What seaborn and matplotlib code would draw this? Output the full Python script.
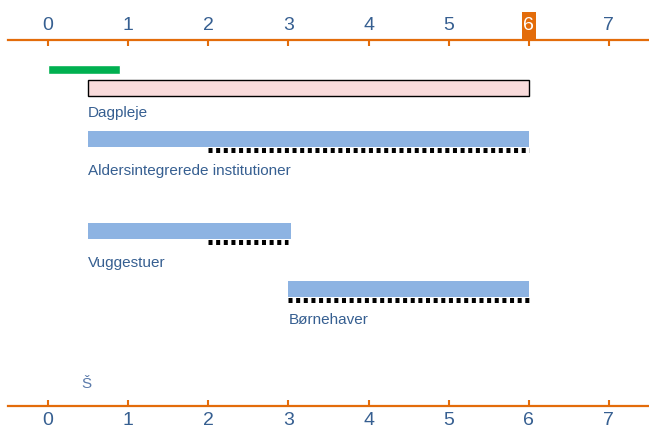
import matplotlib
matplotlib.use("Agg")
import matplotlib.pyplot as plt
import matplotlib.transforms as mtransforms
from matplotlib.patches import Rectangle
import seaborn as sns

# age ranges (years) per care type
care_types = ["Dagpleje", "Aldersintegrerede institutioner", "Vuggestuer", "Børnehaver"]
bar_start = [0.5, 0.5, 0.5, 3.0]
bar_end = [6.0, 6.0, 3.03, 6.0]
dash_start = [None, 2.0, 2.0, 3.0]
dash_end = [None, 6.0, 3.0, 6.0]
bar_colors = ["#F9DBDB", "#8DB3E2", "#8DB3E2", "#8DB3E2"]
label_x = [0.5, 0.5, 0.5, 3.0]
leave_start, leave_end = 0.0, 0.9
ticks = [0, 1, 2, 3, 4, 5, 6, 7]
highlight_tick = 6

# layout (pixel rows, axis runs top->bottom)
row_y = [88, 139, 231, 289]
label_y = [113, 171, 263, 320]

ORANGE = "#E36C0A"
TEXT = "#365F91"

sns.set_style("white")
plt.rcParams["font.family"] = ["Liberation Sans", "DejaVu Sans"]
plt.rcParams["lines.scale_dashes"] = False

fig = plt.figure(figsize=(6.49, 4.30), dpi=100)
ax = fig.add_axes([8 / 649, 24 / 430, 641 / 649, 366 / 430])
ax.set_xlim(-0.5, 7.5)
ax.set_ylim(406, 40)

# green bar at the top
ax.barh(69, leave_end - leave_start, left=leave_start, height=9, color="#00B050")

for i, name in enumerate(care_types):
    edge = "black" if i == 0 else "none"
    ax.barh(row_y[i], bar_end[i] - bar_start[i], left=bar_start[i], height=16,
            color=bar_colors[i], edgecolor=edge, linewidth=1)
    if dash_start[i] is not None:
        ax.hlines(row_y[i] + 11, dash_start[i], dash_end[i], colors="black",
                  linewidth=3.6, linestyles=(0, (2.9, 2.6)), capstyle="butt")
    ax.text(label_x[i], label_y[i], name, color=TEXT, fontsize=11, va="center", ha="left")

ax.text(0.42, 384, "Š", color="#5A7AAA", fontsize=11, va="center", ha="left")

for side in ["left", "right"]:
    ax.spines[side].set_visible(False)
for side in ["top", "bottom"]:
    ax.spines[side].set_color(ORANGE)
    ax.spines[side].set_linewidth(1.6)

ax.set_yticks([])
ax.set_xticks(ticks)
ax.set_xticklabels([str(t) for t in ticks])
ax.tick_params(axis="x", which="both", top=True, bottom=True, labeltop=True, labelbottom=True,
               direction="in", length=4.5, width=1.5, color=ORANGE,
               labelcolor=TEXT, labelsize=14, pad=4)

# orange marker behind the highlighted top tick label
trans = mtransforms.blended_transform_factory(ax.transData, ax.transAxes)
ax.add_patch(Rectangle((highlight_tick - 0.08, 1.0), 0.165, 0.076, transform=trans,
                       facecolor=ORANGE, edgecolor="none", clip_on=False, zorder=0.1))
for tick in ax.xaxis.get_major_ticks():
    if tick.get_loc() == highlight_tick:
        tick.label2.set_color("white")

fig.savefig("out.png", dpi=100)
